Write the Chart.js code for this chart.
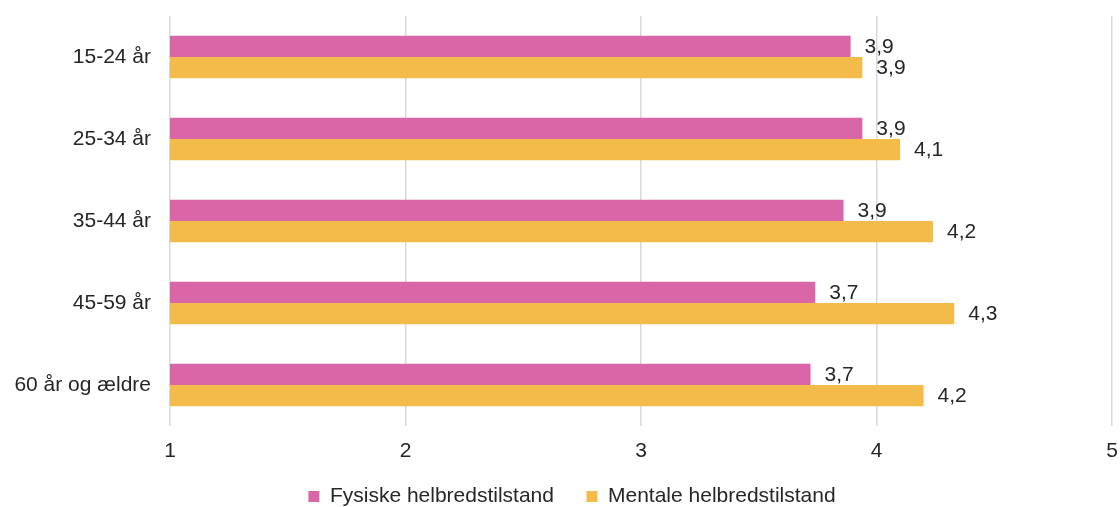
<!DOCTYPE html>
<html>
<head>
<meta charset="utf-8">
<script src="https://cdn.jsdelivr.net/npm/chart.js@4"></script>
<style>
  html, body { margin: 0; padding: 0; background: #ffffff; }
  #wrap { width: 1120px; height: 507px; position: relative; }
</style>
</head>
<body>
<div id="wrap"><canvas id="c" width="1120" height="507"></canvas></div>
<script>
const categories = ['15-24 år', '25-34 år', '35-44 år', '45-59 år', '60 år og ældre'];
const fysiske = [3.89, 3.94, 3.86, 3.74, 3.72];
const mentale = [3.94, 4.10, 4.24, 4.33, 4.20];
const seriesNames = ['Fysiske helbredstilstand', 'Mentale helbredstilstand'];
const xTickValues = [1, 2, 3, 4, 5];

const FONT = '"Liberation Sans", Arial, sans-serif';
const TEXT = '#262626';

const valueLabels = {
  id: 'valueLabels',
  beforeDraw(chart) {
    if (chart.legend) { chart.legend.left = 32; chart.legend.right = 1112; }
    if (chart.scales.x) { chart.scales.x.bottom = 475; }
  },
  afterDatasetsDraw(chart) {
    const ctx = chart.ctx;
    ctx.save();
    ctx.font = '21px ' + FONT;
    ctx.fillStyle = TEXT;
    ctx.textAlign = 'left';
    ctx.textBaseline = 'middle';
    chart.data.datasets.forEach((ds, i) => {
      chart.getDatasetMeta(i).data.forEach((bar, j) => {
        const txt = ds.data[j].toFixed(1).replace('.', ',');
        ctx.fillText(txt, bar.x + 14, bar.y + 1);
      });
    });
    ctx.restore();
  }
};

new Chart(document.getElementById('c'), {
  type: 'bar',
  data: {
    labels: categories,
    datasets: [
      { label: seriesNames[0], data: fysiske, backgroundColor: '#D966A6', borderWidth: 0 },
      { label: seriesNames[1], data: mentale, backgroundColor: '#F3BB4A', borderWidth: 0 }
    ]
  },
  options: {
    indexAxis: 'y',
    responsive: false,
    animation: false,
    devicePixelRatio: 1,
    datasets: { bar: { categoryPercentage: 0.52, barPercentage: 1 } },
    layout: { padding: { left: 0, right: 8, top: 16, bottom: -10 } },
    scales: {
      x: {
        min: 1, max: 5,
        afterBuildTicks(scale) { scale.ticks = xTickValues.map(v => ({ value: v })); },
        afterFit(scale) { scale.height = 27.5; scale.paddingLeft = 0; scale.paddingRight = 0; },
        grid: { color: '#d9d9d9', lineWidth: 1.5, drawTicks: false },
        border: { display: false },
        ticks: { padding: 13, color: TEXT, font: { family: FONT, size: 21 } }
      },
      y: {
        afterFit(scale) { scale.width = 170; scale.paddingTop = 0; scale.paddingBottom = 0; },
        grid: { display: false, drawTicks: false },
        border: { display: false },
        ticks: { padding: 19, color: TEXT, font: { family: FONT, size: 21 } }
      }
    },
    plugins: {
      legend: {
        position: 'bottom',
        labels: { boxWidth: 11, boxHeight: 11, padding: 32.5, color: TEXT, font: { family: FONT, size: 21 } }
      },
      tooltip: { enabled: false }
    }
  },
  plugins: [valueLabels]
});
</script>
</body>
</html>
